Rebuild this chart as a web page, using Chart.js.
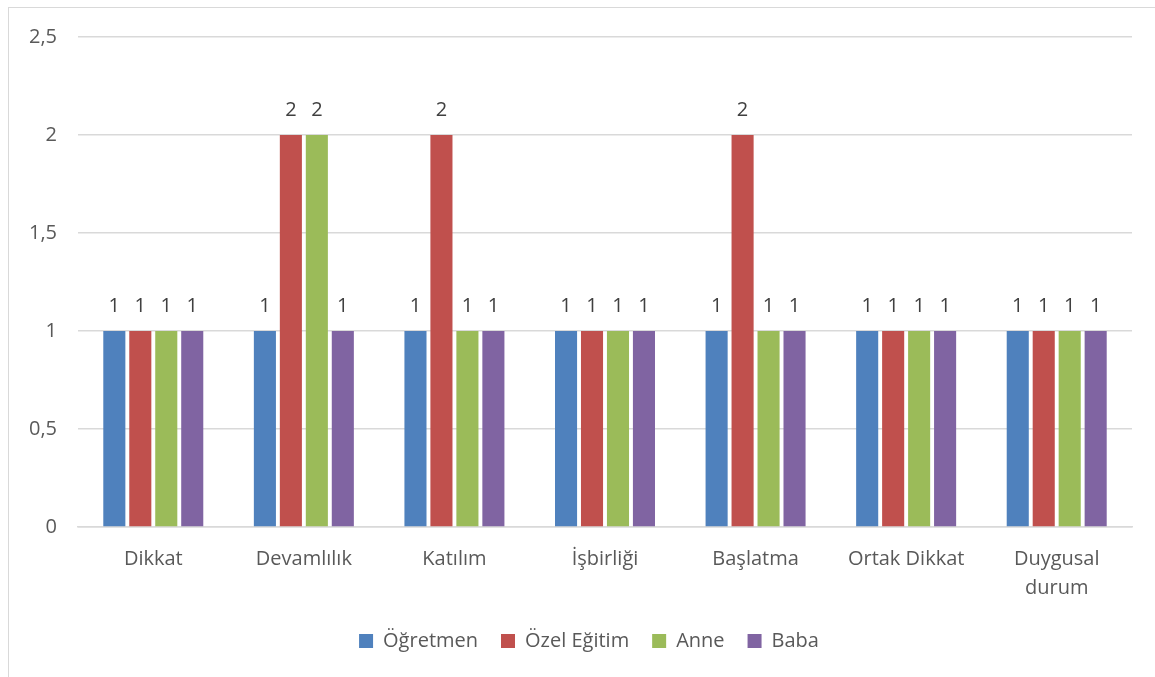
<!DOCTYPE html>
<html>
<head>
<meta charset="utf-8">
<script src="https://cdn.jsdelivr.net/npm/chart.js@4/dist/chart.umd.min.js"></script>
<style>
  html, body { margin: 0; padding: 0; background: #fff; overflow: hidden; }
  #frame {
    position: absolute; left: 8px; top: 7px; width: 1200px; height: 700px;
    border: 1.5px solid #d9d9d9; box-sizing: border-box;
  }
  #wrap { position: absolute; left: 0; top: 0; width: 1155px; height: 677px; }
</style>
</head>
<body>
<div id="frame"></div>
<div id="wrap"><canvas id="chart"></canvas></div>
<script>
// Categories and series values
const categories = ['Dikkat', 'Devamlılık', 'Katılım', 'İşbirliği', 'Başlatma', 'Ortak Dikkat', ['Duygusal', 'durum']];
const ogretmen   = [1, 1, 1, 1, 1, 1, 1];
const ozelEgitim = [1, 2, 2, 1, 2, 1, 1];
const anne       = [1, 2, 1, 1, 1, 1, 1];
const baba       = [1, 1, 1, 1, 1, 1, 1];
const yTicks     = [0, 0.5, 1, 1.5, 2, 2.5];

const FONT = '"Open Sans", sans-serif';
const SIZE = 20;
const TEXT = '#595959';

// Draw the value above each bar
const valueLabels = {
  id: 'valueLabels',
  afterDatasetsDraw(chart) {
    const ctx = chart.ctx;
    ctx.save();
    ctx.font = SIZE + 'px ' + FONT;
    ctx.fillStyle = '#404040';
    ctx.textAlign = 'center';
    ctx.textBaseline = 'middle';
    chart.data.datasets.forEach((ds, i) => {
      chart.getDatasetMeta(i).data.forEach((bar, j) => {
        ctx.fillText(String(ds.data[j]).replace('.', ','), bar.x, bar.y - 25);
      });
    });
    ctx.restore();
  }
};

// Nudge the legend a bit right, like in the original
const legendShift = {
  id: 'legendShift',
  afterLayout(chart) {
    const lg = chart.legend;
    if (!lg) return;
    lg.left += 23;
    lg.right += 23;
    lg.adjustHitBoxes();
  }
};

const mkSet = (label, data, color) => ({
  label, data, backgroundColor: color, borderWidth: 0,
  barPercentage: 0.85, categoryPercentage: 0.69
});

new Chart(document.getElementById('chart'), {
  type: 'bar',
  data: {
    labels: categories,
    datasets: [
      mkSet('Öğretmen', ogretmen, '#4F81BD'),
      mkSet('Özel Eğitim', ozelEgitim, '#C0504D'),
      mkSet('Anne', anne, '#9BBB59'),
      mkSet('Baba', baba, '#8064A2')
    ]
  },
  options: {
    responsive: true,
    maintainAspectRatio: false,
    animation: false,
    layout: { padding: { left: 0, right: 23, top: 37, bottom: 16 } },
    plugins: {
      tooltip: { enabled: false },
      legend: {
        position: 'bottom',
        labels: {
          font: { family: FONT, size: SIZE },
          color: TEXT,
          boxWidth: 14,
          boxHeight: 14,
          padding: 23
        }
      }
    },
    scales: {
      x: {
        grid: { display: false, drawTicks: false },
        border: { display: true, color: '#d9d9d9', width: 1.5 },
        ticks: {
          font: { family: FONT, size: SIZE, lineHeight: 1.45 },
          color: TEXT,
          padding: 18,
          maxRotation: 0,
          autoSkip: false
        },
        afterFit: (s) => { s.height = 81; }
      },
      y: {
        min: 0,
        max: 2.5,
        afterBuildTicks: (s) => { s.ticks = yTicks.map(v => ({ value: v })); },
        grid: { color: '#d9d9d9', lineWidth: 1.5, drawTicks: false },
        border: { display: false },
        ticks: {
          font: { family: FONT, size: SIZE },
          color: TEXT,
          padding: 21,
          callback: (v) => String(v).replace('.', ',')
        },
        afterFit: (s) => { s.width = 78; }
      }
    }
  },
  plugins: [valueLabels, legendShift]
});
</script>
</body>
</html>
